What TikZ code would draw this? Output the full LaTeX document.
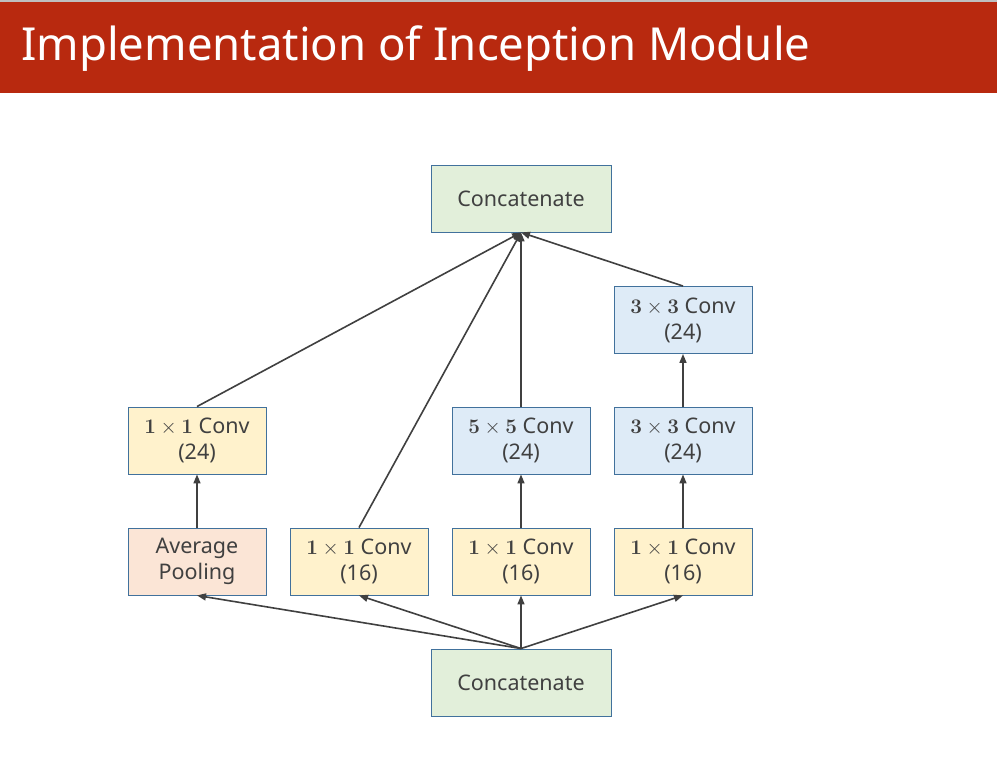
\documentclass[tikz,border=0pt]{standalone}
\usepackage[no-math]{fontspec}
\setmainfont{Noto Sans}
\usetikzlibrary{arrows.meta}
\definecolor{banner}{RGB}{184,41,15}
\definecolor{txt}{RGB}{64,64,64}
\definecolor{edge}{RGB}{65,113,156}
\definecolor{yel}{RGB}{255,242,204}
\definecolor{blu}{RGB}{222,235,247}
\definecolor{grn}{RGB}{226,239,218}
\definecolor{pnk}{RGB}{251,229,214}
\definecolor{lin}{RGB}{64,64,64}
\tikzset{
  box/.style={draw=edge, line width=0.9pt, minimum width=138pt, minimum height=67pt, inner sep=0pt,
    align=center, text=txt, font=\fontsize{21.5pt}{26pt}\selectfont},
  conbox/.style={box, fill=grn, minimum width=180pt},
  ybox/.style={box, fill=yel},
  bbox/.style={box, fill=blu},
  pbox/.style={box, fill=pnk},
  arr/.style={draw=lin, line width=1.6pt, -{Triangle[length=9pt,width=7pt]}}
}
\newcommand{\cv}[1]{$\mathbf{#1}\times\mathbf{#1}$ Conv}
\begin{document}
\begin{tikzpicture}[x=1pt,y=-1pt]
\useasboundingbox (0,0) rectangle (997,776);
\fill[white] (0,0) rectangle (997,776);
\fill[banner] (0,2) rectangle (997,93);
\fill[black!25] (0,0) rectangle (997,2);
\node[anchor=west, text=white, inner sep=0pt, font=\fontsize{45.5pt}{50pt}\selectfont] (title) at (21,49) {Implementation of Inception Module};

\node[conbox] (top) at (521,198.5) {Concatenate};
\node[bbox] (c33b) at (683,320) {\cv{3}\\(24)};
\node[ybox] (c11a) at (197,440.5) {\cv{1}\\(24)};
\node[bbox] (c55) at (521,440.5) {\cv{5}\\(24)};
\node[bbox] (c33a) at (683,440.5) {\cv{3}\\(24)};
\node[pbox] (pool) at (197,561.5) {Average\\Pooling};
\node[ybox] (r1) at (359,561.5) {\cv{1}\\(16)};
\node[ybox] (r2) at (521,561.5) {\cv{1}\\(16)};
\node[ybox] (r3) at (683,561.5) {\cv{1}\\(16)};
\node[conbox] (bot) at (521,682.5) {Concatenate};

\foreach \n in {pool,r1,r2,r3} \draw[arr] (bot.north) -- (\n.south);
\draw[arr] (pool) -- (c11a);
\draw[arr] (r2) -- (c55);
\draw[arr] (r3) -- (c33a);
\draw[arr] (c33a) -- (c33b);
\foreach \n in {c11a,r1,c55,c33b} \draw[arr] (\n.north) -- (top.south);
\end{tikzpicture}
\end{document}
